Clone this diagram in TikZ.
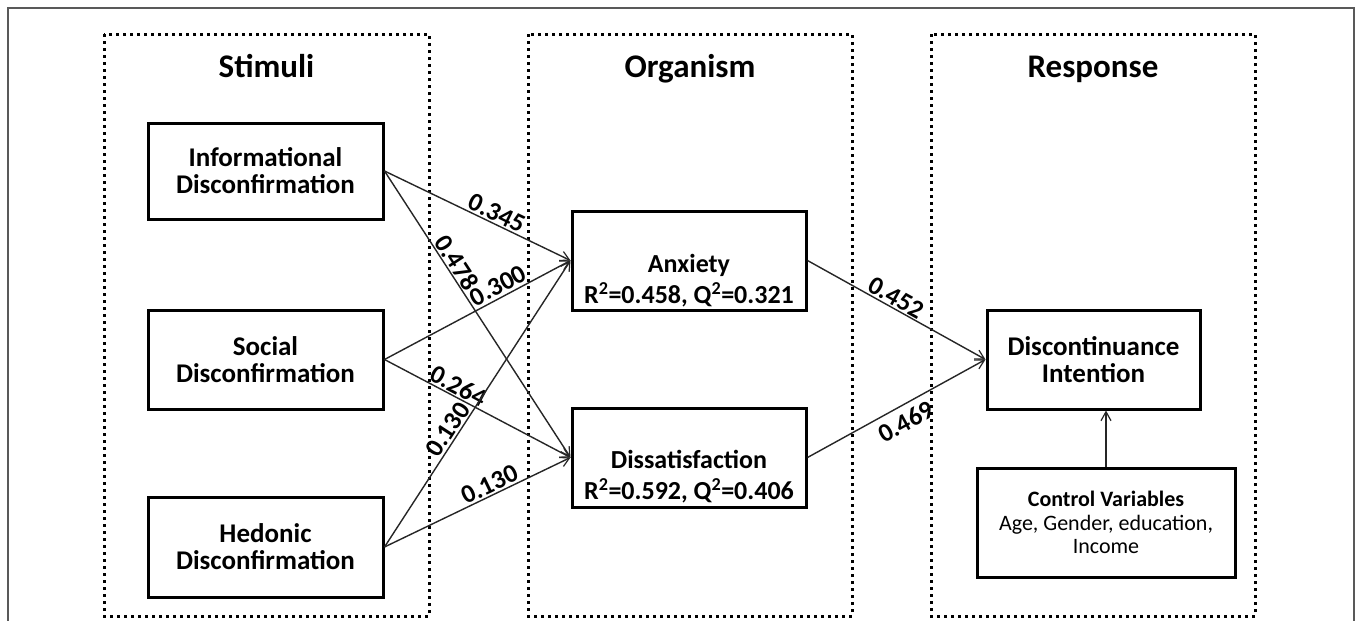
\documentclass[tikz,border=0pt]{standalone}
\usepackage{fontspec}
\setmainfont{Carlito}
\usetikzlibrary{arrows.meta}
\tikzset{
  dotbox/.style={line width=3pt, dash pattern=on 3pt off 4pt},
  varbox/.style={draw, line width=3pt, align=center, inner sep=2pt,
    font=\fontsize{27}{27}\selectfont\bfseries},
  plainbox/.style={draw, line width=3pt, inner sep=0pt},
  boxtext/.style={align=center, inner sep=0pt, font=\fontsize{26}{31}\selectfont\bfseries},
  head/.style={font=\fontsize{33}{36}\selectfont\bfseries, anchor=base},
  arr/.style={draw=black!85, line width=1.4pt, -{Straight Barb[length=9pt,width=10pt,line width=1.2pt]}},
  coef/.style={font=\fontsize{26}{28}\selectfont\bfseries, sloped, inner sep=1.5pt}
}
\begin{document}
\begin{tikzpicture}[x=1pt,y=-1pt]
\useasboundingbox (0,0) rectangle (1358,621);
\fill[white] (0,0) rectangle (1358,621);
% outer frame
\draw[gray!70!black, line width=1.4pt] (8,621) -- (8,8) -- (1354,8) -- (1354,621);
% group boxes
\draw[dotbox] (104,34) rectangle (429,616);
\draw[dotbox] (528,34) rectangle (852,616);
\draw[dotbox] (931,34) rectangle (1255,616);
\node[head] (hS) at (266.5,77) {Stimuli};
\node[head] (hO) at (690,77) {Organism};
\node[head] (hR) at (1093,77) {Response};
% variables
\node[varbox, minimum width=235pt, minimum height=96pt] (info) at (265.5,171) {Informational\\Disconfirmation};
\node[varbox, minimum width=235pt, minimum height=99pt] (soc) at (265.5,359.5) {Social\\Disconfirmation};
\node[varbox, minimum width=235pt, minimum height=100pt] (hed) at (265.5,547) {Hedonic\\Disconfirmation};
\node[plainbox, minimum width=234pt, minimum height=99pt] (anx) at (689,260.5) {};
\node[boxtext] (anxT) at (689,281) {Anxiety\\R\textsuperscript{2}=0.458, Q\textsuperscript{2}=0.321};
\node[plainbox, minimum width=234pt, minimum height=99pt] (dis) at (689,457.5) {};
\node[boxtext] (disT) at (689,477) {Dissatisfaction\\R\textsuperscript{2}=0.592, Q\textsuperscript{2}=0.406};
\node[varbox, minimum width=213pt, minimum height=99pt] (disc) at (1093.5,359.5) {Discontinuance\\Intention};
\node[draw, line width=3pt, align=center, minimum width=258pt, minimum height=109pt,
  font=\fontsize{22}{23.5}\selectfont] (ctrl) at (1106,522.5)
  {{\bfseries Control Variables}\\Age, Gender, education,\\Income};
% paths
\draw[arr] (info.east) -- node[coef, pos=0.58, above] {0.345} (anx.west);
\draw[arr] (info.east) -- node[coef, pos=0.34, above] {0.478} (dis.west);
\draw[arr] (soc.east) -- node[coef, pos=0.64, above=1pt] {0.300} (anx.west);
\draw[arr] (soc.east) -- node[coef, pos=0.37, above] {0.264} (dis.west);
\draw[arr] (hed.east) -- node[coef, pos=0.39, above] {0.130} (anx.west);
\draw[arr] (hed.east) -- node[coef, pos=0.59, above] {0.130} (dis.west);
\draw[arr] (anx.east) -- node[coef, pos=0.47, above] {0.452} (disc.west);
\draw[arr] (dis.east) -- node[coef, pos=0.51, below=5pt] {0.469} (disc.west);
\draw[arr] (ctrl.north) -- (ctrl.north |- disc.south);
\end{tikzpicture}
\end{document}
